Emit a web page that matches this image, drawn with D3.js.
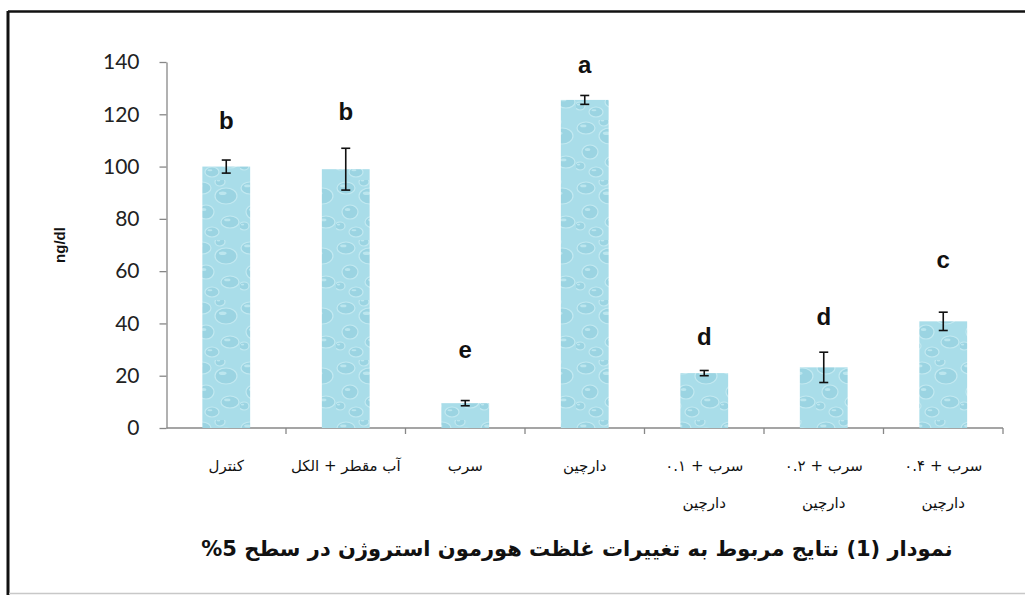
<!DOCTYPE html>
<html>
<head>
<meta charset="utf-8">
<script src="https://cdn.jsdelivr.net/npm/d3@7"></script>
<style>
  body { margin: 0; background: #fff; }
  svg { display: block; }
</style>
</head>
<body>
<div id="chart"></div>
<script>
// Data
var categories = ["کنترل", "آب مقطر + الکل", "سرب", "دارچین", "سرب + ۰.۱|دارچین", "سرب + ۰.۲|دارچین", "سرب + ۰.۴|دارچین"];
var means = [100, 99, 9.5, 125.5, 21, 23.2, 40.8];
var errors = [2.5, 8, 1, 1.7, 1, 5.8, 3.5];
var letters = ["b", "b", "e", "a", "d", "d", "c"];
var letterLevels = [117.5, 121, 30, 139, 35, 42.5, 64.5]; // in ng/dl, where the letter sits
var yTicks = [0, 20, 40, 60, 80, 100, 120, 140];
var title = "نمودار (1) نتایج مربوط به تغییرات غلظت هورمون استروژن در سطح 5%";

var svgWidth = 1025, svgHeight = 595;

var svg = d3.select("#chart").append("svg")
    .attr("width", svgWidth)
    .attr("height", svgHeight);

// frame
svg.append("line").attr("x1", 8).attr("x2", 1025).attr("y1", 11.5).attr("y2", 11.5)
    .attr("stroke", "#111").attr("stroke-width", 2.5);
svg.append("line").attr("x1", 8).attr("x2", 8).attr("y1", 11).attr("y2", 595)
    .attr("stroke", "#111").attr("stroke-width", 3);
svg.append("line").attr("x1", 9).attr("x2", 1025).attr("y1", 593.5).attr("y2", 593.5)
    .attr("stroke", "#c8c8c8").attr("stroke-width", 1.5);

// water-drop texture for bars
var defs = svg.append("defs");
var pat = defs.append("pattern")
    .attr("id", "drops")
    .attr("patternUnits", "userSpaceOnUse")
    .attr("width", 48).attr("height", 60);
pat.append("rect").attr("width", 48).attr("height", 60).attr("fill", "#a9dde9");
var drops = [[10, 8, 9, 6], [34, 16, 11, 8], [14, 32, 8, 7], [38, 42, 9, 6], [20, 52, 7, 5], [4, 46, 5, 4], [28, 2, 5, 4]];
drops.forEach(function(d) {
    pat.append("ellipse").attr("cx", d[0]).attr("cy", d[1]).attr("rx", d[2]).attr("ry", d[3])
        .attr("fill", "#9bd4e2").attr("stroke", "#c2e9f1").attr("stroke-width", 1.2);
    pat.append("ellipse").attr("cx", d[0] - d[2] * 0.3).attr("cy", d[1] - d[3] * 0.35)
        .attr("rx", d[2] * 0.35).attr("ry", d[3] * 0.22)
        .attr("fill", "#d2f1f6").attr("opacity", 0.6);
});

// scales
var x = d3.scaleBand()
    .domain(d3.range(categories.length))
    .range([166.5, 1003])
    .padding(0);

var y = d3.scaleLinear()
    .domain([0, 140])
    .range([428, 62]);

var barW = x.bandwidth() * 0.4;

// y axis
var yAxis = svg.append("g")
    .attr("transform", "translate(166.5,0)")
    .call(d3.axisLeft(y).tickValues(yTicks).tickSize(7).tickPadding(20).tickSizeOuter(0));
yAxis.select(".domain").attr("stroke", "#878787").attr("stroke-width", 1.3);
yAxis.selectAll(".tick line").attr("stroke", "#878787").attr("stroke-width", 1.3);
yAxis.selectAll(".tick text")
    .attr("font-family", "Lato, sans-serif")
    .attr("font-size", 21)
    .attr("fill", "#222");

// x axis line with ticks at category boundaries
var bounds = d3.range(categories.length + 1).map(function(i) {
    return i < categories.length ? x(i) : x(categories.length - 1) + x.bandwidth();
});
svg.append("line")
    .attr("x1", 166.5).attr("x2", bounds[bounds.length - 1])
    .attr("y1", y(0)).attr("y2", y(0))
    .attr("stroke", "#878787").attr("stroke-width", 1.3);
svg.selectAll(".xtick")
    .data(bounds.slice(1))
    .enter().append("line")
    .attr("class", "xtick")
    .attr("x1", function(d) { return d; }).attr("x2", function(d) { return d; })
    .attr("y1", y(0)).attr("y2", y(0) + 6)
    .attr("stroke", "#878787").attr("stroke-width", 1.3);

// bars
svg.selectAll(".bar")
    .data(means)
    .enter().append("rect")
    .attr("class", "bar")
    .attr("x", function(d, i) { return x(i) + (x.bandwidth() - barW) / 2; })
    .attr("y", function(d) { return y(d); })
    .attr("width", barW)
    .attr("height", function(d) { return y(0) - y(d); })
    .attr("fill", "url(#drops)");

// error bars
var eb = svg.selectAll(".err")
    .data(means)
    .enter().append("g")
    .attr("class", "err")
    .attr("stroke", "#111")
    .attr("stroke-width", 1.6);
eb.append("line")
    .attr("x1", function(d, i) { return x(i) + x.bandwidth() / 2; })
    .attr("x2", function(d, i) { return x(i) + x.bandwidth() / 2; })
    .attr("y1", function(d, i) { return y(d + errors[i]); })
    .attr("y2", function(d, i) { return y(d - errors[i]); });
[1, -1].forEach(function(s) {
    eb.append("line")
        .attr("x1", function(d, i) { return x(i) + x.bandwidth() / 2 - 4.5; })
        .attr("x2", function(d, i) { return x(i) + x.bandwidth() / 2 + 4.5; })
        .attr("y1", function(d, i) { return y(d + s * errors[i]); })
        .attr("y2", function(d, i) { return y(d + s * errors[i]); });
});

// significance letters
svg.selectAll(".letter")
    .data(letters)
    .enter().append("text")
    .attr("class", "letter")
    .attr("x", function(d, i) { return x(i) + x.bandwidth() / 2; })
    .attr("y", function(d, i) { return y(letterLevels[i]); })
    .attr("dy", "0.35em")
    .attr("text-anchor", "middle")
    .attr("font-family", "'Liberation Sans', Arial, sans-serif")
    .attr("font-weight", "bold")
    .attr("font-size", 24)
    .attr("fill", "#111")
    .text(function(d) { return d; });

// y axis title
svg.append("text")
    .attr("transform", "translate(60," + y(70) + ") rotate(-90)")
    .attr("text-anchor", "middle")
    .attr("dy", "0.35em")
    .attr("font-family", "'Liberation Sans', Arial, sans-serif")
    .attr("font-weight", "bold")
    .attr("font-size", 15)
    .attr("fill", "#111")
    .text("ng/dl");

// category labels (two lines where split by |)
var cat = svg.selectAll(".cat")
    .data(categories)
    .enter().append("text")
    .attr("class", "cat")
    .attr("direction", "rtl")
    .attr("text-anchor", "middle")
    .attr("font-family", "'DejaVu Sans', sans-serif")
    .attr("font-size", 15)
    .attr("fill", "#111");
cat.each(function(d, i) {
    var lines = d.split("|");
    var t = d3.select(this);
    lines.forEach(function(line, k) {
        t.append("tspan")
            .attr("x", x(i) + x.bandwidth() / 2)
            .attr("y", 471 + k * 37)
            .text(line);
    });
});

// chart caption
svg.append("text")
    .attr("x", 577)
    .attr("y", 556)
    .attr("direction", "rtl")
    .attr("text-anchor", "middle")
    .attr("font-family", "'DejaVu Sans', sans-serif")
    .attr("font-weight", "bold")
    .attr("font-size", 21)
    .attr("fill", "#111")
    .text(title);
</script>
</body>
</html>
